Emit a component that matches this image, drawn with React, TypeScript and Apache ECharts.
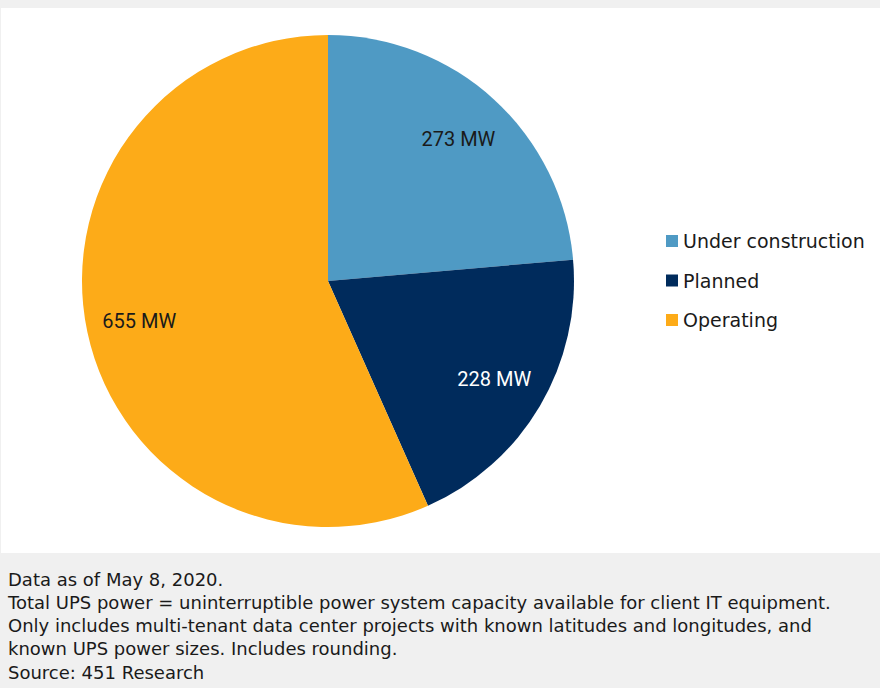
import React, { useEffect, useRef } from "react";
import * as echarts from "echarts";

const categories = ["Under construction", "Planned", "Operating"];
const values = [273, 228, 655];
const colors = ["#4f9ac4", "#002b5c", "#fdab18"];
const labelColors = ["#1a1a1a", "#ffffff", "#1a1a1a"];
const notes = [
  "Data as of May 8, 2020.",
  "Total UPS power = uninterruptible power system capacity available for client IT equipment.",
  "Only includes multi-tenant data center projects with known latitudes and longitudes, and",
  "known UPS power sizes. Includes rounding.",
  "Source: 451 Research",
];

export default function App() {
  const ref = useRef<HTMLDivElement>(null);
  useEffect(() => {
    document.body.style.margin = "0";
    const chart = echarts.init(ref.current!, null, { renderer: "svg" });
    const data = categories.map((name, i) => ({
      name,
      value: values[i],
      itemStyle: { color: colors[i] },
    }));
    const labelData = categories.map((name, i) => ({
      name,
      value: values[i],
      itemStyle: { color: "rgba(0,0,0,0)" },
      label: { color: labelColors[i] },
    }));
    chart.setOption({
      animation: false,
      backgroundColor: "#f0f0f0",
      graphic: [
        {
          type: "rect",
          z: -10,
          shape: { x: 1, y: 8, width: 879, height: 545 },
          style: { fill: "#ffffff" },
        },
        ...notes.map((t, i) => ({
          type: "text",
          x: 8,
          y: 579 + i * 23.3,
          style: {
            text: t,
            fill: "#1a1a1a",
            font: '18px "DejaVu Sans", sans-serif',
            textVerticalAlign: "middle",
          },
        })),
      ],
      legend: {
        orient: "vertical",
        left: 666,
        top: 231,
        padding: 0,
        itemWidth: 12,
        itemHeight: 12,
        itemGap: 19.5,
        icon: "rect",
        textStyle: { fontSize: 19, lineHeight: 20, color: "#1a1a1a", fontFamily: "DejaVu Sans" },
        data: categories,
      },
      series: [
        {
          type: "pie",
          center: [328, 281],
          radius: 246,
          startAngle: 90,
          clockwise: true,
          label: { show: false },
          labelLine: { show: false },
          emphasis: { disabled: true },
          data,
        },
        {
          type: "pie",
          center: [328, 281],
          radius: [134, 246],
          startAngle: 90,
          clockwise: true,
          silent: true,
          legendHoverLink: false,
          label: {
            show: true,
            position: "inside",
            formatter: "{c} MW",
            fontSize: 20,
            fontFamily: "Roboto",
          },
          labelLine: { show: false },
          emphasis: { disabled: true },
          data: labelData,
        },
      ],
    });
    return () => chart.dispose();
  }, []);
  return <div ref={ref} style={{ width: 880, height: 688 }} />;
}
